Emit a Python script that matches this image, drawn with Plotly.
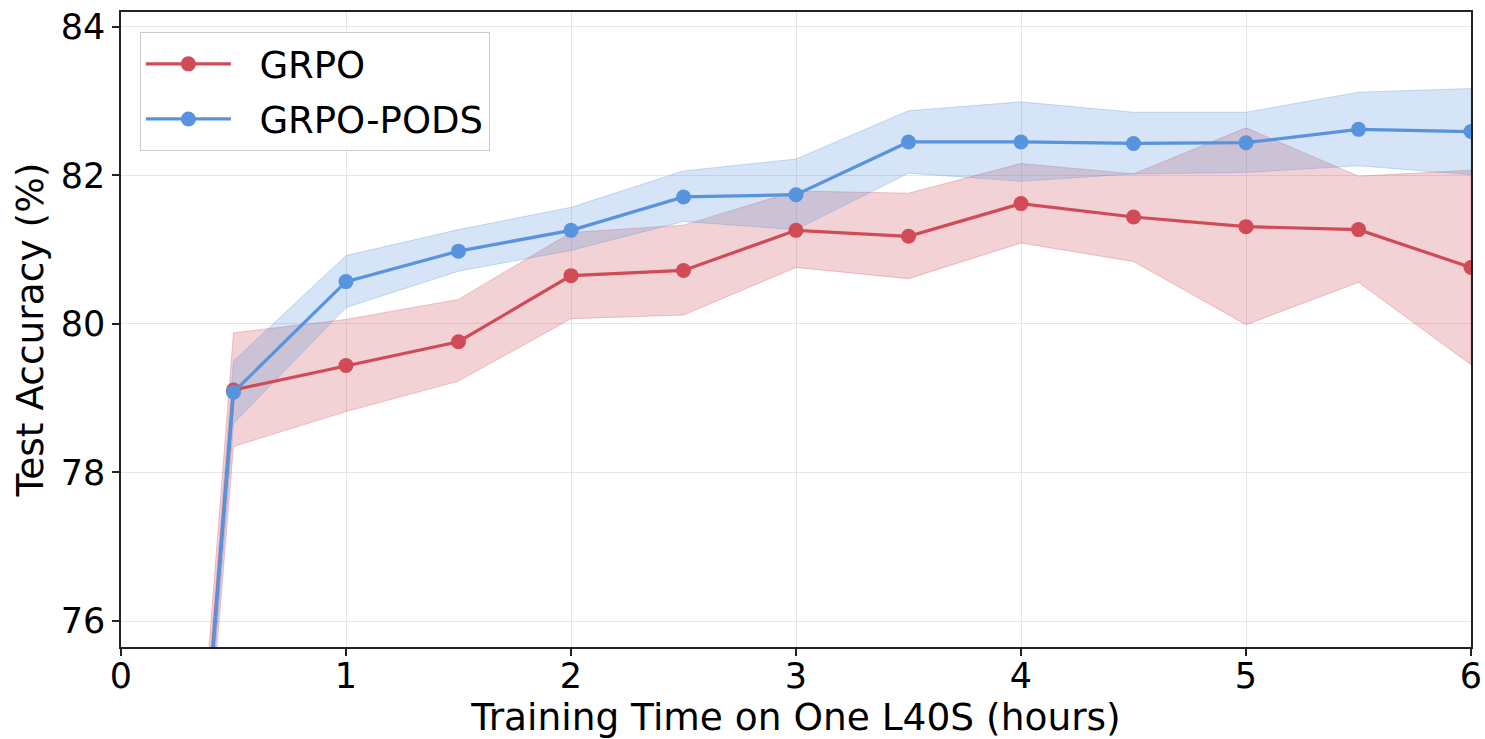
import plotly.graph_objects as go

hours = [0, 0.5, 1.0, 1.5, 2.0, 2.5, 3.0, 3.5, 4.0, 4.5, 5.0, 5.5, 6.0]

grpo_mean = [60.2, 79.11, 79.44, 79.76, 80.65, 80.72, 81.26, 81.18, 81.62, 81.44, 81.31, 81.27, 80.76]
grpo_upper = [60.5, 79.88, 80.06, 80.33, 81.23, 81.33, 81.79, 81.76, 82.16, 82.02, 82.64, 81.99, 82.07]
grpo_lower = [59.9, 78.35, 78.82, 79.23, 80.07, 80.12, 80.76, 80.61, 81.09, 80.84, 79.99, 80.56, 79.45]

pods_mean = [60.0, 79.08, 80.57, 80.98, 81.26, 81.71, 81.74, 82.45, 82.45, 82.43, 82.44, 82.62, 82.59]
pods_upper = [60.2, 79.50, 80.92, 81.27, 81.57, 82.06, 82.22, 82.87, 82.99, 82.85, 82.85, 83.12, 83.17]
pods_lower = [59.8, 78.66, 80.22, 80.71, 80.99, 81.38, 81.27, 82.03, 81.92, 82.02, 82.04, 82.13, 82.01]

x_ticks = [0, 1, 2, 3, 4, 5, 6]
y_ticks = [76, 78, 80, 82, 84]

RED = "#d14b57"
BLUE = "#5893dd"
RED_FILL = "rgba(209,75,87,0.25)"
BLUE_FILL = "rgba(88,147,221,0.25)"
RED_EDGE = "rgba(209,75,87,0.30)"
BLUE_EDGE = "rgba(88,147,221,0.30)"

fig = go.Figure()


def band(x, lo, hi, fill, edge):
    fig.add_trace(go.Scatter(x=x + x[::-1], y=hi + lo[::-1], fill="toself",
                             fillcolor=fill, line=dict(color=edge, width=1),
                             mode="lines", showlegend=False, hoverinfo="skip"))


band(hours, grpo_lower, grpo_upper, RED_FILL, RED_EDGE)
band(hours, pods_lower, pods_upper, BLUE_FILL, BLUE_EDGE)

fig.add_trace(go.Scatter(x=hours[1:], y=grpo_mean[1:], mode="lines+markers",
                         name="\u00a0\u00a0GRPO", legendgroup="a",
                         line=dict(color=RED, width=3.2), marker=dict(size=15, color=RED)))
fig.add_trace(go.Scatter(x=hours[:2], y=grpo_mean[:2], mode="lines",
                         line=dict(color=RED, width=3.2), showlegend=False))
fig.add_trace(go.Scatter(x=hours[1:], y=pods_mean[1:], mode="lines+markers",
                         name="\u00a0\u00a0GRPO-PODS", legendgroup="b",
                         line=dict(color=BLUE, width=3.2), marker=dict(size=15, color=BLUE)))
fig.add_trace(go.Scatter(x=hours[:2], y=pods_mean[:2], mode="lines",
                         line=dict(color=BLUE, width=3.2), showlegend=False))

axis_common = dict(showline=True, linecolor="#222222", linewidth=1.5, mirror=True,
                   ticks="outside", ticklen=7, tickwidth=1.5, tickcolor="#222222",
                   showgrid=True, gridcolor="#e6e6e6", gridwidth=1, zeroline=False,
                   automargin=False, tickfont=dict(size=35, color="black"))

fig.update_layout(
    width=1485, height=739,
    margin=dict(l=121, r=14, t=12, b=92),
    paper_bgcolor="white", plot_bgcolor="white",
    font=dict(family="DejaVu Sans", color="black"),
    xaxis=dict(range=[0, 6], tickvals=x_ticks, ticklabelstandoff=-10,
               title=dict(text="Training Time on One L40S (hours)", font=dict(size=37.5), standoff=2),
               **axis_common),
    yaxis=dict(range=[75.65, 84.2], tickvals=y_ticks,
               title=dict(text="Test Accuracy (%)", font=dict(size=37.5), standoff=6),
               **axis_common),
    legend=dict(x=0.014, y=0.968, xanchor="left", yanchor="top",
                bgcolor="rgba(255,255,255,0.85)", bordercolor="#cccccc", borderwidth=1,
                font=dict(size=37), itemwidth=85, traceorder="grouped", tracegroupgap=4),
    showlegend=True,
)

fig.write_html("out.html")
